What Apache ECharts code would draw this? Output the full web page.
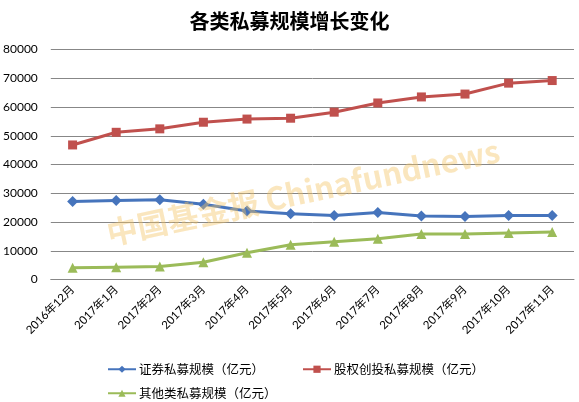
<!DOCTYPE html>
<html><head><meta charset="utf-8">
<script src="https://cdn.jsdelivr.net/npm/echarts@6/dist/echarts.min.js"></script>
<style>html,body{margin:0;padding:0;background:#fff}#c{width:579px;height:402px}</style>
</head><body><div id="c"></div>
<script>
const title = '各类私募规模增长变化';
const categories = ['2016年12月','2017年1月','2017年2月','2017年3月','2017年4月','2017年5月','2017年6月','2017年7月','2017年8月','2017年9月','2017年10月','2017年11月'];
const seriesNames = ['证券私募规模（亿元）','股权创投私募规模（亿元）','其他类私募规模（亿元）'];
const securities = [27100, 27500, 27700, 26200, 23800, 22900, 22300, 23300, 22100, 21900, 22300, 22300];
const equityVC = [46800, 51200, 52400, 54700, 55800, 56100, 58200, 61400, 63500, 64500, 68300, 69200];
const others = [4100, 4300, 4500, 6000, 9300, 12100, 13100, 14200, 15800, 15800, 16200, 16500];
const watermark = '中国基金报 Chinafundnews';

const chart = echarts.init(document.getElementById('c'));
const numFont = 'Lato, "Noto Sans CJK SC", sans-serif';
const cjkFont = '"Noto Sans CJK SC", sans-serif';
chart.setOption({
  animation: false,
  backgroundColor: '#fff',
  title: {
    text: title, left: 'center', top: 6,
    textStyle: {fontSize: 20, fontWeight: 'bold', color: '#000', fontFamily: cjkFont}
  },
  grid: {left: 50, right: 5, top: 49.5, bottom: 122.5, containLabel: false},
  legend: [
    {data: [seriesNames[0], seriesNames[1]], left: 102, top: 358, itemWidth: 28, itemHeight: 9, itemGap: 38,
     textStyle: {fontSize: 12.5, color: '#000', fontFamily: cjkFont, padding: [0,0,0,-2]}},
    {data: [seriesNames[2]], left: 102, top: 382, itemWidth: 28, itemHeight: 9,
     textStyle: {fontSize: 12.5, color: '#000', fontFamily: cjkFont, padding: [0,0,0,-2]}}
  ],
  xAxis: {
    type: 'category', data: categories, boundaryGap: true,
    axisLine: {lineStyle: {color: '#878787', width: 1}},
    axisTick: {show: false},
    axisLabel: {rotate: 45, margin: 8, fontSize: 11.5, color: '#000', fontFamily: numFont, interval: 0}
  },
  yAxis: {
    type: 'value', min: 0, max: 80000, interval: 10000,
    axisLine: {show: false}, axisTick: {show: false},
    splitLine: {lineStyle: {color: '#878787', width: 1}},
    axisLabel: {margin: 13, fontSize: 12, color: '#000', fontFamily: numFont, formatter: v => String(v)}
  },
  series: [
    {name: seriesNames[0], type: 'line', data: securities, symbol: 'diamond', symbolSize: 11,
     itemStyle: {color: '#4674BC'}, lineStyle: {width: 3, color: '#4674BC'}},
    {name: seriesNames[1], type: 'line', data: equityVC, symbol: 'rect', symbolSize: 9,
     itemStyle: {color: '#C0504D'}, lineStyle: {width: 3, color: '#C0504D'}},
    {name: seriesNames[2], type: 'line', data: others, symbol: 'triangle', symbolSize: 10,
     itemStyle: {color: '#9BBB59'}, lineStyle: {width: 3, color: '#9BBB59'}}
  ],
  graphic: [{
    type: 'text', x: 303, y: 192, rotation: 12 * Math.PI / 180, z: 100,
    style: {text: watermark, fontSize: 31, fontWeight: 'bold', fontFamily: '"Noto Sans CJK SC", sans-serif',
      fill: 'rgba(244,196,100,0.42)', align: 'center', verticalAlign: 'middle'}
  }]
});
</script></body></html>
